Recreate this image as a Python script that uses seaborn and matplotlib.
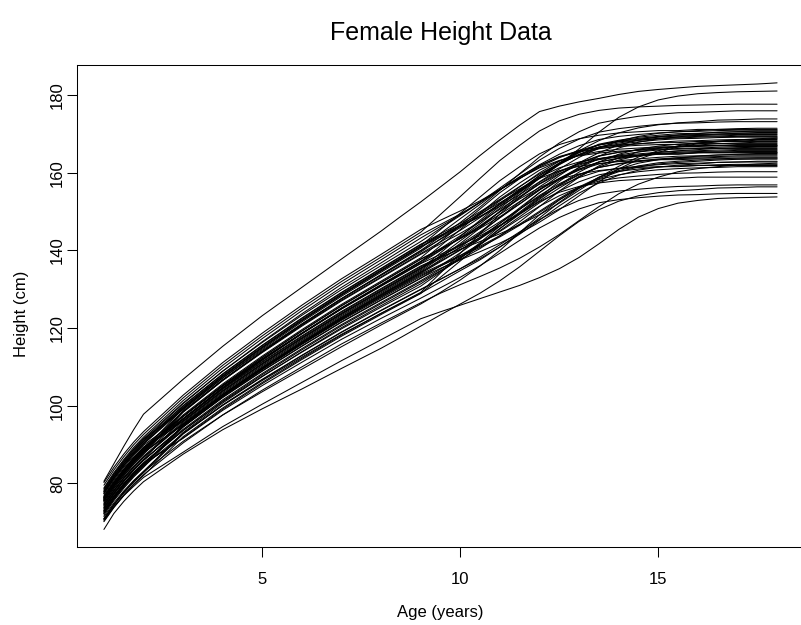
import numpy as np
import pandas as pd
import matplotlib
matplotlib.use("Agg")
import matplotlib.pyplot as plt
import seaborn as sns

# Measurement ages (years)
ages = [1, 1.25, 1.5, 1.75, 2, 3, 4, 5, 6, 7, 8, 8.5, 9, 9.5, 10, 10.5, 11, 11.5,
        12, 12.5, 13, 13.5, 14, 14.5, 15, 15.5, 16, 16.5, 17, 17.5, 18]

# Heights (cm) of each girl at the ages above
g01 = [80.5, 85.0, 89.5, 93.8, 97.8, 106.8, 115.3, 123.2, 130.5, 137.8, 145.0, 148.8, 152.5, 156.4, 160.3, 164.5, 168.5, 172.3, 175.8, 177.2, 178.3, 179.2, 180.2, 181.0, 181.5, 181.9, 182.3, 182.5, 182.7, 182.9, 183.2]
g02 = [77.3, 81.1, 84.5, 87.5, 90.2, 99.4, 107.6, 115.0, 122.0, 128.6, 134.8, 137.9, 141.0, 143.8, 146.6, 149.4, 152.3, 155.3, 158.5, 162.2, 166.2, 170.5, 174.3, 177.0, 178.8, 179.8, 180.4, 180.7, 180.9, 181.0, 181.1]
g03 = [70.6, 73.9, 76.8, 79.2, 81.5, 88.0, 94.6, 100.4, 106.0, 111.6, 117.0, 119.7, 122.4, 124.2, 125.9, 127.6, 129.3, 131.0, 133.0, 135.3, 138.2, 141.7, 145.4, 148.6, 150.8, 152.2, 152.9, 153.4, 153.6, 153.7, 153.8]
g04 = [79.5, 83.4, 86.8, 89.9, 92.6, 102.0, 110.4, 118.0, 125.2, 132.0, 138.3, 141.5, 144.7, 149.3, 153.9, 158.6, 163.2, 167.1, 170.8, 173.4, 175.1, 176.1, 176.7, 177.0, 177.2, 177.4, 177.5, 177.6, 177.7, 177.7, 177.7]
g05 = [76.3, 80.1, 83.5, 86.5, 89.2, 98.4, 106.6, 114.0, 121.0, 127.6, 133.8, 136.9, 140.0, 143.6, 147.2, 151.2, 155.5, 159.8, 164.1, 167.7, 170.6, 172.8, 173.8, 174.6, 175.1, 175.5, 175.6, 175.8, 176.0, 176.0, 176.0]
g06 = [75.8, 79.6, 82.9, 85.9, 88.5, 99.3, 107.5, 114.9, 121.9, 128.5, 134.7, 137.8, 140.9, 143.5, 146.2, 148.8, 151.8, 155.1, 158.7, 162.4, 165.7, 168.3, 170.3, 171.6, 172.4, 172.9, 173.2, 173.6, 173.7, 173.9, 173.9]
g07 = [78.0, 81.9, 85.3, 88.4, 91.1, 100.5, 108.9, 116.5, 123.7, 130.5, 136.8, 140.0, 143.2, 146.2, 149.2, 152.5, 156.1, 159.7, 163.3, 166.3, 168.7, 170.5, 171.4, 172.0, 172.5, 172.8, 172.9, 173.1, 173.2, 173.2, 173.2]
g08 = [72.9, 76.5, 79.7, 82.5, 85.0, 91.6, 98.8, 105.2, 111.2, 117.1, 122.5, 125.1, 127.7, 130.4, 133.1, 136.1, 139.3, 142.6, 145.8, 148.5, 150.7, 152.3, 153.1, 153.6, 154.0, 154.3, 154.4, 154.6, 154.7, 154.7, 154.7]
g09 = [68.1, 72.2, 75.3, 78.0, 80.4, 87.5, 93.8, 99.2, 104.3, 109.6, 114.8, 117.6, 120.5, 123.4, 126.2, 129.0, 132.2, 135.8, 139.8, 143.8, 147.5, 150.5, 152.7, 154.1, 154.9, 155.4, 155.7, 156.1, 156.2, 156.4, 156.4]
g10 = [70.8, 74.4, 77.5, 80.3, 82.7, 92.7, 100.1, 106.7, 112.9, 118.9, 124.5, 127.2, 129.9, 132.6, 135.3, 138.3, 141.5, 144.8, 148.0, 150.7, 152.9, 154.5, 155.3, 155.8, 156.2, 156.5, 156.6, 156.8, 156.9, 156.9, 156.9]
g11 = [72.6, 76.3, 79.5, 82.4, 84.9, 91.7, 99.1, 105.7, 111.9, 117.9, 123.5, 126.2, 128.9, 133.1, 137.3, 141.5, 145.7, 149.3, 152.6, 155.0, 156.5, 157.4, 158.0, 158.3, 158.6, 158.6, 158.9, 158.9, 158.9, 158.9, 158.9]
g12 = [75.5, 79.2, 82.5, 85.4, 88.0, 95.0, 102.6, 109.4, 115.8, 122.0, 127.7, 130.5, 133.3, 136.0, 138.7, 141.7, 144.9, 148.2, 151.4, 154.1, 156.3, 157.9, 158.7, 159.2, 159.6, 159.9, 160.0, 160.2, 160.3, 160.3, 160.3]
g13 = [70.9, 74.5, 77.7, 80.5, 83.0, 90.8, 97.6, 103.6, 109.4, 115.2, 120.8, 123.5, 126.2, 129.2, 132.4, 136.0, 140.0, 144.6, 149.2, 153.0, 156.2, 158.3, 159.5, 160.3, 160.8, 161.1, 161.3, 161.4, 161.6, 161.6, 161.6]
g14 = [74.2, 77.9, 81.2, 84.1, 86.7, 95.5, 103.3, 110.3, 116.9, 123.2, 129.1, 132.0, 134.9, 138.7, 142.5, 146.2, 150.0, 153.3, 156.2, 158.4, 159.7, 160.6, 161.1, 161.4, 161.6, 161.6, 161.9, 161.9, 161.9, 161.9, 161.9]
g15 = [73.0, 76.7, 79.9, 82.8, 85.3, 93.9, 101.5, 108.3, 114.7, 120.9, 126.6, 129.4, 132.2, 135.2, 138.2, 141.5, 145.1, 148.7, 152.3, 155.3, 157.7, 159.5, 160.4, 161.0, 161.5, 161.8, 161.9, 162.1, 162.2, 162.2, 162.2]
g16 = [70.3, 73.9, 77.0, 79.8, 82.2, 90.4, 97.6, 104.0, 110.0, 115.9, 121.3, 123.9, 126.5, 129.0, 131.2, 133.3, 135.5, 138.0, 140.9, 144.1, 147.7, 151.3, 154.6, 157.1, 158.9, 160.3, 161.1, 161.6, 162.0, 162.3, 162.5]
g17 = [76.5, 80.3, 83.6, 86.6, 89.2, 96.4, 104.2, 111.2, 117.8, 124.1, 130.0, 132.9, 135.8, 138.5, 141.2, 144.2, 147.4, 150.7, 153.9, 156.6, 158.8, 160.4, 161.2, 161.7, 162.1, 162.4, 162.5, 162.7, 162.8, 162.8, 162.8]
g18 = [72.3, 75.9, 79.1, 81.9, 84.4, 92.8, 100.2, 106.8, 113.0, 119.0, 124.6, 127.3, 130.0, 132.6, 135.3, 137.9, 140.9, 144.2, 147.8, 151.5, 154.8, 157.4, 159.4, 160.7, 161.5, 162.0, 162.3, 162.7, 162.8, 163.0, 163.0]
g19 = [74.4, 78.1, 81.3, 84.2, 86.7, 95.3, 102.9, 109.7, 116.1, 122.3, 128.0, 130.8, 133.6, 136.0, 138.4, 140.8, 143.5, 146.5, 149.8, 153.1, 156.1, 158.5, 160.3, 161.5, 162.3, 162.7, 163.0, 163.3, 163.5, 163.6, 163.6]
g20 = [77.4, 81.2, 84.5, 87.5, 90.1, 99.1, 107.1, 114.3, 121.1, 127.6, 133.6, 136.6, 139.6, 143.0, 146.3, 149.7, 153.0, 155.9, 158.6, 160.5, 161.7, 162.4, 162.9, 163.1, 163.4, 163.4, 163.6, 163.6, 163.6, 163.6, 163.6]
g21 = [71.8, 75.5, 78.7, 81.6, 84.1, 94.5, 102.3, 109.3, 115.9, 122.2, 128.1, 131.0, 133.9, 136.3, 138.7, 141.1, 143.8, 146.8, 150.1, 153.4, 156.4, 158.8, 160.6, 161.8, 162.6, 163.0, 163.3, 163.6, 163.8, 163.9, 163.9]
g22 = [73.4, 77.1, 80.4, 83.3, 85.9, 94.7, 102.5, 109.5, 116.1, 122.4, 128.3, 131.2, 134.1, 137.1, 140.1, 143.4, 147.0, 150.6, 154.2, 157.2, 159.6, 161.4, 162.3, 162.9, 163.4, 163.7, 163.8, 164.0, 164.1, 164.1, 164.1]
g23 = [70.8, 74.4, 77.6, 80.4, 82.9, 93.1, 100.7, 107.5, 113.9, 120.1, 125.8, 128.6, 131.4, 134.7, 138.0, 141.6, 145.6, 149.6, 153.5, 156.8, 159.5, 161.4, 162.4, 163.1, 163.6, 163.9, 164.1, 164.2, 164.4, 164.4, 164.4]
g24 = [76.9, 80.7, 84.1, 87.1, 89.8, 97.2, 105.2, 112.4, 119.2, 125.7, 131.7, 134.7, 137.7, 140.4, 143.1, 146.1, 149.3, 152.6, 155.8, 158.5, 160.7, 162.3, 163.1, 163.6, 164.0, 164.3, 164.4, 164.6, 164.7, 164.7, 164.7]
g25 = [71.4, 74.9, 78.0, 80.7, 83.1, 92.9, 100.1, 106.5, 112.5, 118.4, 123.8, 126.4, 129.0, 131.9, 134.8, 137.6, 140.9, 144.5, 148.4, 152.4, 156.0, 158.9, 161.0, 162.5, 163.4, 163.9, 164.3, 164.6, 164.8, 165.0, 165.0]
g26 = [74.5, 78.2, 81.5, 84.4, 87.0, 95.8, 103.6, 110.6, 117.2, 123.5, 129.4, 132.3, 135.2, 139.4, 143.6, 147.8, 152.0, 155.6, 158.9, 161.3, 162.8, 163.7, 164.3, 164.6, 164.9, 164.9, 165.2, 165.2, 165.2, 165.2, 165.2]
g27 = [76.2, 80.0, 83.3, 86.3, 88.9, 96.1, 103.9, 110.9, 117.5, 123.8, 129.7, 132.6, 135.5, 138.5, 141.5, 144.8, 148.4, 152.0, 155.6, 158.6, 161.0, 162.8, 163.7, 164.3, 164.8, 165.1, 165.2, 165.4, 165.5, 165.5, 165.5]
g28 = [73.6, 77.3, 80.5, 83.4, 85.9, 94.5, 102.1, 108.9, 115.3, 121.5, 127.2, 130.0, 132.8, 136.1, 139.4, 143.0, 147.0, 151.0, 154.9, 158.2, 160.9, 162.8, 163.8, 164.5, 165.0, 165.3, 165.5, 165.6, 165.8, 165.8, 165.8]
g29 = [75.4, 79.1, 82.4, 85.3, 87.9, 98.5, 106.5, 113.7, 120.5, 127.0, 133.0, 136.0, 139.0, 141.7, 144.4, 147.4, 150.6, 153.9, 157.1, 159.8, 162.0, 163.6, 164.4, 164.9, 165.3, 165.6, 165.7, 165.9, 166.0, 166.0, 166.0]
g30 = [78.6, 82.4, 85.8, 88.8, 91.5, 100.7, 108.9, 116.3, 123.3, 129.9, 136.1, 139.2, 142.3, 145.7, 149.0, 152.4, 155.7, 158.6, 161.3, 163.2, 164.4, 165.1, 165.6, 165.8, 166.1, 166.1, 166.3, 166.3, 166.3, 166.3, 166.3]
g31 = [75.9, 79.6, 82.9, 85.8, 88.4, 97.2, 105.0, 112.0, 118.6, 124.9, 130.8, 133.7, 136.6, 139.0, 141.4, 143.8, 146.5, 149.5, 152.8, 156.1, 159.1, 161.5, 163.3, 164.5, 165.3, 165.7, 166.0, 166.3, 166.5, 166.6, 166.6]
g32 = [73.1, 76.7, 79.9, 82.7, 85.2, 93.6, 101.0, 107.6, 113.8, 119.8, 125.4, 128.1, 130.8, 134.4, 138.0, 142.0, 146.3, 150.6, 154.9, 158.5, 161.4, 163.6, 164.6, 165.4, 165.9, 166.3, 166.4, 166.6, 166.8, 166.8, 166.8]
g33 = [74.9, 78.7, 82.0, 85.0, 87.6, 96.6, 104.6, 111.8, 118.6, 125.1, 131.1, 134.1, 137.1, 140.1, 143.1, 146.4, 150.0, 153.6, 157.2, 160.2, 162.6, 164.4, 165.3, 165.9, 166.4, 166.7, 166.8, 167.0, 167.1, 167.1, 167.1]
g34 = [72.2, 75.9, 79.1, 82.0, 84.5, 94.9, 102.7, 109.7, 116.3, 122.6, 128.5, 131.4, 134.3, 137.6, 140.9, 144.5, 148.5, 152.5, 156.4, 159.7, 162.4, 164.3, 165.3, 166.0, 166.5, 166.8, 167.0, 167.1, 167.3, 167.3, 167.3]
g35 = [78.3, 82.2, 85.6, 88.7, 91.4, 99.0, 107.2, 114.6, 121.6, 128.2, 134.4, 137.5, 140.6, 144.4, 148.2, 151.9, 155.7, 159.0, 161.9, 164.1, 165.4, 166.3, 166.8, 167.1, 167.3, 167.3, 167.6, 167.6, 167.6, 167.6, 167.6]
g36 = [72.7, 76.4, 79.6, 82.5, 85.0, 93.6, 101.2, 108.0, 114.4, 120.6, 126.3, 129.1, 131.9, 134.8, 137.7, 140.5, 143.8, 147.4, 151.3, 155.3, 158.9, 161.8, 163.9, 165.4, 166.3, 166.8, 167.2, 167.5, 167.7, 167.9, 167.9]
g37 = [75.9, 79.7, 83.0, 86.0, 88.6, 97.6, 105.6, 112.8, 119.6, 126.1, 132.1, 135.1, 138.1, 142.3, 146.5, 150.7, 154.9, 158.5, 161.8, 164.2, 165.7, 166.6, 167.2, 167.5, 167.8, 167.8, 168.1, 168.1, 168.1, 168.1, 168.1]
g38 = [76.1, 79.9, 83.2, 86.2, 88.8, 96.0, 103.8, 110.8, 117.4, 123.7, 129.6, 132.5, 135.4, 138.0, 140.7, 143.3, 146.3, 149.6, 153.2, 156.9, 160.2, 162.8, 164.8, 166.1, 166.9, 167.4, 167.7, 168.1, 168.2, 168.4, 168.4]
g39 = [77.9, 81.7, 85.1, 88.1, 90.8, 100.0, 108.2, 115.6, 122.6, 129.2, 135.4, 138.5, 141.6, 144.3, 147.0, 150.0, 153.2, 156.5, 159.7, 162.4, 164.6, 166.2, 167.0, 167.5, 167.9, 168.2, 168.3, 168.5, 168.6, 168.6, 168.6]
g40 = [73.7, 77.4, 80.6, 83.5, 86.0, 94.6, 102.2, 109.0, 115.4, 121.6, 127.3, 130.1, 132.9, 135.4, 137.6, 139.7, 141.9, 144.4, 147.3, 150.5, 154.1, 157.7, 161.0, 163.5, 165.3, 166.7, 167.5, 168.0, 168.4, 168.7, 168.9]
g41 = [75.6, 79.3, 82.6, 85.5, 88.1, 98.7, 106.7, 113.9, 120.7, 127.2, 133.2, 136.2, 139.2, 142.2, 145.2, 148.5, 152.1, 155.7, 159.3, 162.3, 164.7, 166.5, 167.4, 168.0, 168.5, 168.8, 168.9, 169.1, 169.2, 169.2, 169.2]
g42 = [80.2, 84.1, 87.5, 90.6, 93.3, 102.7, 111.1, 118.7, 125.9, 132.7, 139.0, 142.2, 145.4, 147.8, 150.2, 152.8, 155.7, 158.6, 161.5, 163.9, 165.8, 167.2, 168.0, 168.4, 168.8, 169.0, 169.2, 169.3, 169.4, 169.4, 169.4]
g43 = [76.6, 80.2, 83.4, 86.2, 88.8, 97.3, 105.1, 112.1, 118.7, 125.0, 130.9, 133.8, 136.7, 140.0, 143.3, 146.9, 150.9, 154.9, 158.8, 162.1, 164.8, 166.7, 167.7, 168.4, 168.9, 169.2, 169.4, 169.5, 169.7, 169.7, 169.7]
g44 = [74.8, 78.6, 81.9, 84.9, 87.5, 98.3, 106.5, 113.9, 120.9, 127.5, 133.7, 136.8, 139.9, 142.9, 145.9, 149.2, 152.8, 156.4, 160.0, 163.0, 165.4, 167.2, 168.1, 168.7, 169.2, 169.5, 169.6, 169.8, 169.9, 169.9, 169.9]
g45 = [76.4, 80.2, 83.6, 86.6, 89.3, 96.7, 104.7, 111.9, 118.7, 125.2, 131.2, 134.2, 137.2, 140.5, 143.8, 147.4, 151.4, 155.4, 159.3, 162.6, 165.3, 167.2, 168.2, 168.9, 169.4, 169.7, 169.9, 170.0, 170.2, 170.2, 170.2]
g46 = [72.3, 76.0, 79.2, 82.1, 84.6, 95.0, 102.8, 109.8, 116.4, 122.7, 128.6, 131.5, 134.4, 137.3, 140.2, 143.0, 146.3, 149.9, 153.8, 157.8, 161.4, 164.3, 166.4, 167.9, 168.8, 169.3, 169.7, 170.0, 170.2, 170.4, 170.4]
g47 = [77.5, 81.3, 84.7, 87.7, 90.4, 99.6, 107.8, 115.2, 122.2, 128.8, 135.0, 138.1, 141.2, 145.4, 149.6, 153.8, 158.0, 161.6, 164.9, 167.3, 168.8, 169.7, 170.3, 170.6, 170.9, 170.9, 171.2, 171.2, 171.2, 171.2, 171.2]
g48 = [75.6, 79.4, 82.7, 85.7, 88.3, 97.3, 105.3, 112.5, 119.3, 125.8, 131.8, 134.8, 137.8, 140.4, 143.1, 145.7, 148.7, 152.0, 155.6, 159.3, 162.6, 165.2, 167.2, 168.5, 169.3, 169.8, 170.1, 170.5, 170.6, 170.8, 170.8]
g49 = [78.8, 82.7, 86.1, 89.2, 91.9, 101.3, 109.7, 117.3, 124.5, 131.3, 137.6, 140.8, 144.0, 146.7, 149.4, 152.4, 155.6, 158.9, 162.1, 164.8, 167.0, 168.6, 169.4, 169.9, 170.3, 170.6, 170.7, 170.9, 171.0, 171.0, 171.0]
g50 = [75.3, 79.1, 82.4, 85.4, 88.0, 95.2, 103.0, 110.0, 116.6, 122.9, 128.8, 131.7, 134.6, 138.2, 141.8, 145.8, 150.1, 154.4, 158.7, 162.3, 165.2, 167.4, 168.4, 169.2, 169.7, 170.1, 170.2, 170.4, 170.6, 170.6, 170.6]
g51 = [77.8, 81.6, 85.0, 88.0, 90.7, 99.9, 108.1, 115.5, 122.5, 129.1, 135.3, 138.4, 141.5, 143.9, 146.3, 148.7, 151.4, 154.4, 157.7, 161.0, 164.0, 166.4, 168.2, 169.4, 170.2, 170.6, 170.9, 171.2, 171.4, 171.5, 171.5]
g52 = [70.1, 73.7, 76.8, 79.6, 82.0, 92.0, 99.4, 106.0, 112.2, 118.2, 123.8, 126.5, 129.2, 134.2, 139.3, 144.3, 149.4, 153.7, 157.6, 160.5, 162.3, 163.4, 164.1, 164.5, 164.8, 164.8, 165.2, 165.2, 165.2, 165.2, 165.2]
g53 = [76.2, 80.0, 83.4, 86.4, 89.1, 96.5, 104.5, 111.7, 118.5, 125.0, 131.0, 134.0, 137.0, 141.2, 145.4, 149.6, 153.8, 157.4, 160.7, 163.1, 164.6, 165.5, 166.1, 166.4, 166.7, 166.7, 167.0, 167.0, 167.0, 167.0, 167.0]
g54 = [73.9, 77.6, 80.8, 83.7, 86.2, 96.6, 104.4, 111.4, 118.0, 124.3, 130.2, 133.1, 136.0, 138.3, 140.3, 142.3, 144.3, 146.6, 149.2, 152.2, 155.5, 158.8, 161.7, 164.1, 165.7, 167.0, 167.7, 168.2, 168.5, 168.8, 169.0]

heights = [g01, g02, g03, g04, g05, g06, g07, g08, g09, g10, g11, g12, g13, g14,
           g15, g16, g17, g18, g19, g20, g21, g22, g23, g24, g25, g26, g27, g28,
           g29, g30, g31, g32, g33, g34, g35, g36, g37, g38, g39, g40, g41, g42,
           g43, g44, g45, g46, g47, g48, g49, g50, g51, g52, g53, g54]
assert all(len(h) == len(ages) for h in heights)

x_ticks = [5, 10, 15]
y_ticks = [80, 100, 120, 140, 160, 180]

# Long-form table: one row per girl and age
df = pd.DataFrame({
    "age": np.tile(ages, len(heights)),
    "height": np.concatenate(heights),
    "girl": np.repeat(np.arange(1, len(heights) + 1), len(ages)),
})

sns.set_style("ticks")
plt.rcParams["font.family"] = ["Liberation Sans", "DejaVu Sans"]
plt.rcParams["text.color"] = "black"
plt.rcParams["axes.labelcolor"] = "black"
plt.rcParams["xtick.color"] = "black"
plt.rcParams["ytick.color"] = "black"

W, H = 801, 625
fig = plt.figure(figsize=(W / 100, H / 100), dpi=100)
left, right, top, bottom = 77, 804, 65, 547.3
ax = fig.add_axes([left / W, 1 - bottom / H, (right - left) / W, (bottom - top) / H])

sns.lineplot(data=df, x="age", y="height", units="girl", estimator=None,
             color="black", linewidth=0.75, ax=ax, legend=False)

# Axis ranges padded by 4% on each side
def padded(lo, hi):
    d = (hi - lo) * 0.04
    return lo - d, hi + d

ax.set_xlim(*padded(df["age"].min(), df["age"].max()))
ax.set_ylim(*padded(df["height"].min(), df["height"].max()))
ax.set_xticks(x_ticks)
ax.set_yticks(y_ticks)

for s in ax.spines.values():
    s.set_visible(True)
    s.set_color("black")
    s.set_linewidth(0.75)

ax.tick_params(direction="out", length=7.2, width=0.75, colors="black",
               labelsize=12, bottom=True, left=True, top=False, right=False)
ax.tick_params(axis="x", pad=10.5)
ax.tick_params(axis="y", pad=1.5)
for lab in ax.get_yticklabels():
    lab.set_rotation(90)
    lab.set_va("center")

ax.set_xlabel("Age (years)", fontsize=12, color="black")
ax.set_ylabel("Height (cm)", fontsize=12, color="black")
ax.xaxis.set_label_coords(0.5, -0.1186)
ax.yaxis.set_label_coords(-0.0667, 0.485)

fig.text((left + right) / 2 / W, 1 - 33 / H, "Female Height Data",
         ha="center", va="center", fontsize=18, color="black")

fig.savefig("out.png", dpi=100)
